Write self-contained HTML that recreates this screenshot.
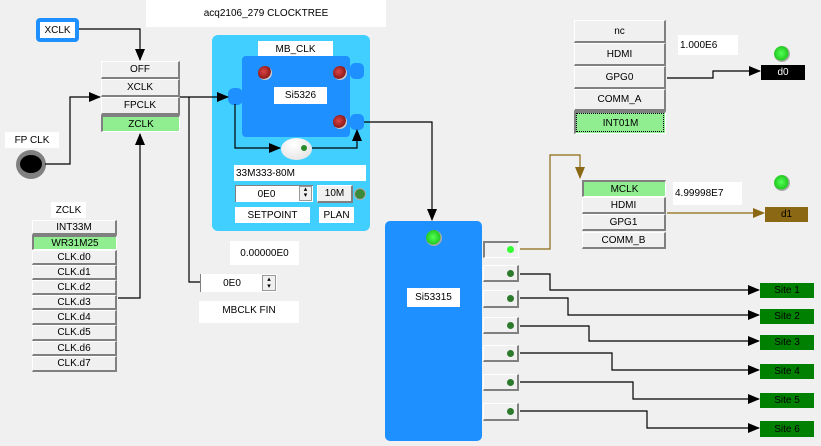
<!DOCTYPE html>
<html><head><meta charset="utf-8"><style>
*{box-sizing:border-box;margin:0;padding:0}
body{width:821px;height:446px;background:#f0f0f0;position:relative;overflow:hidden;font-family:"Liberation Sans",sans-serif;font-size:10px;color:#000}
.a{position:absolute}
.lab{position:absolute;background:#fff;display:flex;align-items:center;justify-content:center;white-space:nowrap}
.btn{position:absolute;background:#f0f0f0;border-top:1px solid #fff;border-left:1px solid #fff;border-right:2px solid #808080;border-bottom:2px solid #808080;display:flex;align-items:center;justify-content:center;white-space:nowrap}
.g{background:#90ee90}
.sunk{border-top:2px solid #808080;border-left:2px solid #808080;border-right:1px solid #fff;border-bottom:1px solid #fff}
.led{position:absolute;border-radius:50%}
</style></head><body>
<div class="lab" style="left:146px;top:0;width:240px;height:27px">acq2106_279 CLOCKTREE</div>
<div class="lab" style="left:36px;top:18px;width:43px;height:24px;border:4px solid #1e90ff;border-radius:4px">XCLK</div>

<div class="btn" style="left:101px;top:61px;width:79px;height:18px">OFF</div>
<div class="btn" style="left:101px;top:79px;width:79px;height:18px">XCLK</div>
<div class="btn" style="left:101px;top:97px;width:79px;height:18px">FPCLK</div>
<div class="btn g sunk" style="left:101px;top:115px;width:79px;height:17px">ZCLK</div>

<div class="lab" style="left:5px;top:132px;width:54px;height:16px">FP CLK</div>
<div class="led" style="left:16px;top:150px;width:30px;height:29px;background:#808080"></div>
<div class="led" style="left:20px;top:155px;width:22px;height:18px;background:#000"></div>

<div class="lab" style="left:51px;top:202px;width:35px;height:16px">ZCLK</div>
<div class="btn" style="left:32px;top:220px;width:85px;height:15px">INT33M</div>
<div class="btn g sunk" style="left:32px;top:235px;width:85px;height:15px">WR31M25</div>
<div class="btn" style="left:32px;top:250px;width:85px;height:15px">CLK.d0</div>
<div class="btn" style="left:32px;top:265px;width:85px;height:15px">CLK.d1</div>
<div class="btn" style="left:32px;top:280px;width:85px;height:15px">CLK.d2</div>
<div class="btn" style="left:32px;top:295px;width:85px;height:15px">CLK.d3</div>
<div class="btn" style="left:32px;top:310px;width:85px;height:15px">CLK.d4</div>
<div class="btn" style="left:32px;top:325px;width:85px;height:16px">CLK.d5</div>
<div class="btn" style="left:32px;top:341px;width:85px;height:15px">CLK.d6</div>
<div class="btn" style="left:32px;top:356px;width:85px;height:16px">CLK.d7</div>

<!-- MB_CLK panel -->
<div class="a" style="left:212px;top:35px;width:158px;height:196px;background:#40cfff;border-radius:6px"></div>
<div class="lab" style="left:258px;top:41px;width:75px;height:16px">MB_CLK</div>
<div class="a" style="left:242px;top:56px;width:108px;height:81px;background:#1e90ff;border-radius:4px"></div>
<div class="a" style="left:350px;top:63px;width:14px;height:16px;background:#1e90ff;border-radius:5px"></div>
<div class="a" style="left:350px;top:114px;width:14px;height:16px;background:#1e90ff;border-radius:5px"></div>
<div class="a" style="left:228px;top:88px;width:15px;height:17px;background:#1e90ff;border-radius:6px"></div>
<div class="led" style="left:258px;top:66px;width:14px;height:14px;background:radial-gradient(circle at 40% 40%,#d44,#8b1a1a 60%,#ccc 62%)"></div>
<div class="led" style="left:333px;top:66px;width:14px;height:14px;background:radial-gradient(circle at 40% 40%,#d44,#8b1a1a 60%,#ccc 62%)"></div>
<div class="led" style="left:333px;top:115px;width:14px;height:14px;background:radial-gradient(circle at 40% 40%,#d44,#8b1a1a 60%,#ccc 62%)"></div>
<div class="lab" style="left:274px;top:87px;width:53px;height:17px">Si5326</div>
<div class="led" style="left:281px;top:138px;width:31px;height:22px;background:radial-gradient(ellipse at 40% 30%,#fff,#ddd)"></div>
<div class="led" style="left:301px;top:145px;width:6px;height:6px;background:#2a8a2a"></div>
<div class="lab" style="left:234px;top:165px;width:132px;height:16px;justify-content:flex-start;padding-left:2px">33M333-80M</div>
<div class="lab" style="left:235px;top:185px;width:78px;height:17px;border-top:1px solid #808080;border-left:1px solid #808080;padding-right:16px">0E0</div>
<div class="a" style="left:299px;top:186px;width:13px;height:15px;background:#f0f0f0;border:1px solid #999;font-size:7px;line-height:6px;text-align:center">▴<br>▾</div>
<div class="btn" style="left:317px;top:185px;width:36px;height:18px">10M</div>
<div class="led" style="left:354px;top:188px;width:12px;height:12px;background:radial-gradient(circle,#3a8a3a 55%,#aaa 60%)"></div>
<div class="lab" style="left:235px;top:207px;width:75px;height:16px">SETPOINT</div>
<div class="lab" style="left:319px;top:207px;width:35px;height:16px">PLAN</div>

<div class="lab" style="left:230px;top:241px;width:69px;height:24px">0.00000E0</div>
<div class="lab" style="left:200px;top:274px;width:77px;height:18px;border-left:1px solid #808080;padding-right:14px">0E0</div>
<div class="a" style="left:262px;top:275px;width:14px;height:16px;background:#f0f0f0;border:1px solid #999;font-size:7px;line-height:7px;text-align:center">▴<br>▾</div>
<div class="lab" style="left:199px;top:301px;width:100px;height:22px;align-items:flex-start;padding-top:4px">MBCLK FIN</div>

<!-- Si53315 -->
<div class="a" style="left:385px;top:221px;width:97px;height:220px;background:#1e90ff;border-radius:5px"></div>
<div class="led" style="left:426px;top:230px;width:16px;height:16px;background:radial-gradient(circle at 45% 45%,#5f5,#2c2 55%,#aaa 62%)"></div>
<div class="lab" style="left:407px;top:288px;width:53px;height:19px">Si53315</div>

<div class="btn sunk" style="left:483px;top:241px;width:36px;height:17px"></div>
<div class="led" style="left:507px;top:246px;width:7px;height:7px;background:#3f3"></div>
<div class="btn" style="left:483px;top:265px;width:36px;height:17px"></div>
<div class="btn" style="left:483px;top:290px;width:36px;height:18px"></div>
<div class="btn" style="left:483px;top:317px;width:36px;height:17px"></div>
<div class="btn" style="left:483px;top:345px;width:36px;height:17px"></div>
<div class="btn" style="left:483px;top:374px;width:36px;height:17px"></div>
<div class="btn" style="left:483px;top:403px;width:36px;height:18px"></div>
<div class="led" style="left:507px;top:270px;width:7px;height:7px;background:#2d7a2d"></div>
<div class="led" style="left:507px;top:295px;width:7px;height:7px;background:#2d7a2d"></div>
<div class="led" style="left:507px;top:322px;width:7px;height:7px;background:#2d7a2d"></div>
<div class="led" style="left:507px;top:350px;width:7px;height:7px;background:#2d7a2d"></div>
<div class="led" style="left:507px;top:379px;width:7px;height:7px;background:#2d7a2d"></div>
<div class="led" style="left:507px;top:408px;width:7px;height:7px;background:#2d7a2d"></div>

<div class="lab" style="left:760px;top:283px;width:54px;height:15px;background:#008000">Site 1</div>
<div class="lab" style="left:760px;top:309px;width:54px;height:15px;background:#008000">Site 2</div>
<div class="lab" style="left:760px;top:335px;width:54px;height:15px;background:#008000">Site 3</div>
<div class="lab" style="left:760px;top:364px;width:54px;height:15px;background:#008000">Site 4</div>
<div class="lab" style="left:760px;top:393px;width:54px;height:15px;background:#008000">Site 5</div>
<div class="lab" style="left:760px;top:421px;width:54px;height:16px;background:#008000">Site 6</div>

<!-- right lists -->
<div class="btn" style="left:574px;top:20px;width:92px;height:23px">nc</div>
<div class="btn" style="left:574px;top:43px;width:92px;height:23px">HDMI</div>
<div class="btn" style="left:574px;top:66px;width:92px;height:23px">GPG0</div>
<div class="btn" style="left:574px;top:89px;width:92px;height:22px">COMM_A</div>
<div class="btn g sunk" style="left:574px;top:111px;width:92px;height:23px;outline:1px dotted #000;outline-offset:-3px">INT01M</div>
<div class="lab" style="left:678px;top:35px;width:60px;height:20px;justify-content:flex-start;padding-left:2px">1.000E6</div>
<div class="led" style="left:774px;top:46px;width:16px;height:16px;background:radial-gradient(circle at 45% 45%,#5f5,#2c2 55%,#aaa 62%)"></div>
<div class="lab" style="left:761px;top:65px;width:44px;height:15px;background:#000;color:#fff">d0</div>

<div class="btn g sunk" style="left:582px;top:180px;width:84px;height:17px">MCLK</div>
<div class="btn" style="left:582px;top:197px;width:84px;height:17px">HDMI</div>
<div class="btn" style="left:582px;top:214px;width:84px;height:17px">GPG1</div>
<div class="btn" style="left:582px;top:232px;width:84px;height:17px">COMM_B</div>
<div class="lab" style="left:673px;top:182px;width:69px;height:23px;justify-content:flex-start;padding-left:2px">4.99998E7</div>
<div class="led" style="left:774px;top:175px;width:16px;height:16px;background:radial-gradient(circle at 45% 45%,#5f5,#2c2 55%,#aaa 62%)"></div>
<div class="lab" style="left:765px;top:207px;width:43px;height:15px;background:#8b6914">d1</div>

<svg class="a" style="left:0;top:0" width="821" height="446">
<defs>
<marker id="k" markerWidth="12" markerHeight="10" refX="11" refY="5" orient="auto" markerUnits="userSpaceOnUse"><path d="M0,0L12,5L0,10z" fill="#000"/></marker>
<marker id="b" markerWidth="12" markerHeight="10" refX="11" refY="5" orient="auto" markerUnits="userSpaceOnUse"><path d="M0,0L12,5L0,10z" fill="#8b6914"/></marker>
</defs>
<g fill="none" stroke="#000" stroke-width="1.2">
<path d="M79,29H140V60" marker-end="url(#k)"/>
<path d="M45,164H70V97H100" marker-end="url(#k)"/>
<path d="M118,298H140V134" marker-end="url(#k)"/>
<path d="M180,97H228" marker-end="url(#k)"/>
<path d="M189,97V282H200"/>
<path d="M235,104V148H280" marker-end="url(#k)"/>
<path d="M312,148H357V130" marker-end="url(#k)"/>
<path d="M364,122H432V220" marker-end="url(#k)"/>
<path d="M667,78H713V71H760" marker-end="url(#k)"/>
<path d="M520,274H550V290H759" marker-end="url(#k)"/>
<path d="M520,298H568V315H759" marker-end="url(#k)"/>
<path d="M520,326H589V341H759" marker-end="url(#k)"/>
<path d="M520,353H612V370H759" marker-end="url(#k)"/>
<path d="M520,382H633V399H759" marker-end="url(#k)"/>
<path d="M520,411H647V428H759" marker-end="url(#k)"/>
</g>
<g fill="none" stroke="#8b6914" stroke-width="1.2">
<path d="M520,249H550V155H580V178" marker-end="url(#b)"/>
<path d="M667,213H764" marker-end="url(#b)"/>
</g>
</svg>
</body></html>
